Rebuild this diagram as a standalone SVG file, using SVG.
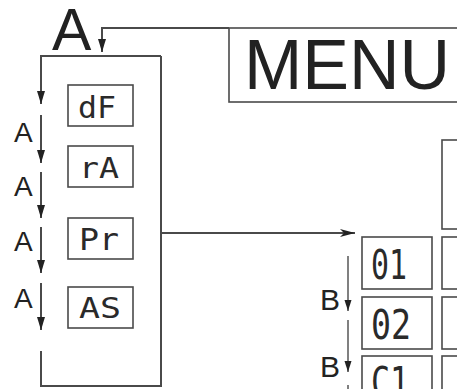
<svg xmlns="http://www.w3.org/2000/svg" width="457" height="389" viewBox="0 0 457 389">
<style>
.conn{fill:none;stroke:#4a4a4a;stroke-width:2}
.thin{fill:none;stroke:#4a4a4a;stroke-width:1.4}
.box{fill:#fff;stroke:#4a4a4a;stroke-width:1.6}
.seg{font-family:"DejaVu Sans Mono","Liberation Mono",monospace;fill:#2a2a2a}
.lbl{font-family:"Liberation Sans",Arial,sans-serif;fill:#222}
</style>
<defs>
<marker id="ah" markerUnits="userSpaceOnUse" markerWidth="14" markerHeight="9" refX="13" refY="4.5" orient="auto">
<path d="M0,0.5 L13,4.5 L0,8.5 z" fill="#222"/>
</marker>
<marker id="ahs" markerUnits="userSpaceOnUse" markerWidth="12" markerHeight="8" refX="11" refY="4" orient="auto">
<path d="M0,0.5 L11,4 L0,7.5 z" fill="#222"/>
</marker>
<marker id="ahn" markerUnits="userSpaceOnUse" markerWidth="16" markerHeight="9" refX="15" refY="4.5" orient="auto">
<path d="M0,0.5 L15,4.5 L0,8.5 L4,4.5 z" fill="#222"/>
</marker>
</defs>

<g id="menu">
<rect class="box" x="229" y="28" width="240" height="74" stroke-width="2.2" stroke="#2a2a2a"/>
<text class="lbl" x="244" y="89" font-size="70">MENU</text>
</g>

<g id="node-dF"><rect class="box" x="68" y="85" width="65" height="41"/><text class="seg" x="78" y="118" font-size="31" textLength="38" lengthAdjust="spacingAndGlyphs">dF</text></g>
<g id="node-rA"><rect class="box" x="68" y="146" width="65" height="41"/><text class="seg" x="79" y="178" font-size="29" textLength="40" lengthAdjust="spacingAndGlyphs">rA</text></g>
<g id="node-Pr"><rect class="box" x="68" y="218" width="65" height="41"/><text class="seg" x="79" y="250" font-size="30" textLength="40" lengthAdjust="spacingAndGlyphs">Pr</text></g>
<g id="node-AS"><rect class="box" x="68" y="287" width="65" height="41"/><text class="seg" x="79" y="318" font-size="29" textLength="42" lengthAdjust="spacingAndGlyphs">AS</text></g>

<g id="node-01"><rect class="box" x="362" y="237" width="70" height="52"/><text class="seg" x="371" y="279" font-size="41" textLength="36" lengthAdjust="spacingAndGlyphs">01</text></g>
<g id="node-02"><rect class="box" x="362" y="297" width="70" height="52"/><text class="seg" x="371" y="339" font-size="41" textLength="40" lengthAdjust="spacingAndGlyphs">02</text></g>
<g id="node-C1"><rect class="box" x="362" y="356" width="70" height="52"/><text class="seg" x="371" y="396" font-size="41" textLength="38" lengthAdjust="spacingAndGlyphs">C1</text></g>

<g id="right-column">
<rect class="box" x="442" y="140" width="30" height="89"/>
<rect class="box" x="442" y="237" width="30" height="52"/>
<rect class="box" x="442" y="297" width="30" height="52"/>
<rect class="box" x="442" y="356" width="30" height="52"/>
</g>

<g id="connectors">
<path class="conn" d="M229,28 H102 V52" marker-end="url(#ah)"/>
<path class="conn" d="M161,56 V386 H41 V351"/>
<path class="conn" d="M161,56 H41 V104" marker-end="url(#ah)"/>
<line class="conn" x1="41" y1="115" x2="41" y2="163" marker-end="url(#ah)"/>
<line class="conn" x1="41" y1="172" x2="41" y2="218" marker-end="url(#ah)"/>
<line class="conn" x1="41" y1="227" x2="41" y2="273" marker-end="url(#ah)"/>
<line class="conn" x1="41" y1="283" x2="41" y2="330" marker-end="url(#ah)"/>
<line class="conn" x1="161" y1="233" x2="355" y2="233" marker-end="url(#ahn)"/>
<line class="thin" x1="348" y1="256" x2="348" y2="311" marker-end="url(#ahs)"/>
<line class="thin" x1="348" y1="320" x2="348" y2="372" marker-end="url(#ahs)"/>
<line class="thin" x1="348" y1="385" x2="348" y2="395"/>
</g>

<g id="labels">
<text class="lbl" x="52" y="50" font-size="59">A</text>
<text class="lbl" x="14" y="142" font-size="28">A</text>
<text class="lbl" x="14" y="196" font-size="28">A</text>
<text class="lbl" x="14" y="251" font-size="28">A</text>
<text class="lbl" x="14" y="308" font-size="28">A</text>
<text class="lbl" x="320" y="310" font-size="30">B</text>
<text class="lbl" x="320" y="377" font-size="30">B</text>
</g>
</svg>
